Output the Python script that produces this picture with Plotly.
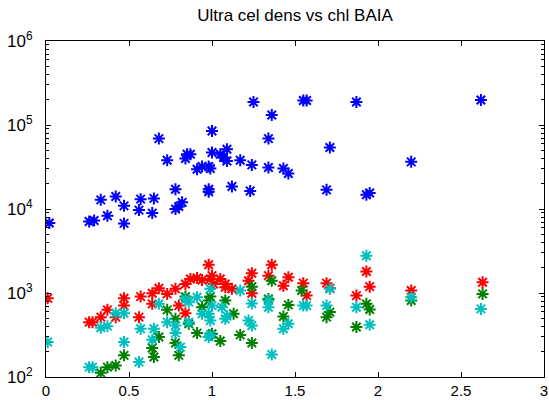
import plotly.graph_objects as go

title = "Ultra cel dens vs chl BAIA"

blue_x = [0.02, 0.26, 0.29, 0.33, 0.37, 0.42, 0.47, 0.47, 0.56, 0.57,
          0.64, 0.65, 0.68, 0.73, 0.78, 0.78, 0.80, 0.82, 0.84, 0.85,
          0.87, 0.91, 0.94, 0.98, 0.99, 0.98, 0.98, 1.00, 1.00, 1.05,
          1.07, 1.09, 1.09, 1.12, 1.17, 1.23, 1.24, 1.25, 1.34, 1.34,
          1.36, 1.43, 1.46, 1.55, 1.57, 1.87, 1.71, 1.69, 1.93, 1.95,
          2.20, 2.62]
blue_y = [6800, 7100, 7300, 12850, 8300, 14100, 10900, 6740, 9700, 13100,
          8940, 13370, 68900, 38100, 17200, 9970, 10700, 12000, 39900, 44900,
          44900, 29800, 32100, 32100, 30300, 17200, 16000, 84900, 47000, 44900,
          41000, 51400, 37300, 18500, 38100, 16400, 33500, 187600, 31200, 68900,
          131500, 30300, 26500, 196000, 196000, 187600, 53900, 16900, 14800, 15500,
          36400, 198000]

red_x = [0.01, 0.26, 0.28, 0.33, 0.37, 0.42, 0.47, 0.47, 0.56, 0.57,
         0.64, 0.64, 0.68, 0.73, 0.78, 0.80, 0.84, 0.84, 0.87, 0.91,
         0.94, 0.98, 0.99, 1.00, 1.01, 1.05, 1.08, 1.08, 1.12, 1.22,
         1.24, 1.24, 1.34, 1.36, 1.43, 1.46, 1.55, 1.57, 1.69, 1.71,
         1.87, 1.93, 1.95, 2.20, 2.63]
red_y = [867, 450, 450, 516, 630, 516, 867, 708, 516, 906,
         995, 743, 1140, 976, 1120, 708, 575, 1280, 1470, 1510,
         1430, 2170, 1470, 1610, 1280, 1470, 1280, 1170, 1120, 1400,
         1720, 995, 1610, 2170, 1220, 1540, 1310, 931, 1310, 1140,
         931, 1800, 1190, 1070, 1340]

green_x = [0.33, 0.37, 0.42, 0.47, 0.65, 0.64, 0.68, 0.73, 0.78, 0.78,
           0.80, 0.84, 0.86, 0.91, 0.94, 0.98, 0.99, 1.00, 1.05, 1.08,
           1.13, 1.17, 1.24, 1.24, 1.36, 1.34, 1.43, 1.46, 1.54, 1.69,
           1.71, 1.87, 1.93, 1.95, 2.20, 2.63]
green_y = [112, 131, 137, 181, 173, 221, 299, 630, 492, 254,
           181, 906, 430, 333, 678, 813, 906, 327, 268, 813,
           565, 317, 254, 1190, 1400, 851, 525, 722, 1070, 516,
           592, 393, 743, 635, 813, 976]

cyan_x = [0.01, 0.26, 0.28, 0.33, 0.37, 0.42, 0.47, 0.47, 0.56, 0.57,
          0.65, 0.64, 0.68, 0.73, 0.78, 0.78, 0.81, 0.84, 0.86, 0.86,
          0.91, 0.94, 0.98, 0.99, 1.00, 0.99, 0.98, 0.99, 1.06, 1.08,
          1.09, 1.17, 1.24, 1.22, 1.24, 1.34, 1.34, 1.36, 1.43, 1.46,
          1.55, 1.57, 1.69, 1.71, 1.87, 1.93, 1.95, 2.20, 2.62]
cyan_y = [261, 131, 131, 385, 403, 575, 575, 261, 151, 375,
          375, 277, 743, 450, 410, 333, 227, 851, 778, 450,
          891, 565, 565, 1120, 708, 470, 299, 317, 678, 492,
          530, 1070, 750, 470, 410, 813, 678, 185, 375, 430,
          708, 708, 708, 1120, 678, 2780, 418, 891, 647]

x_ticks = [0, 0.5, 1, 1.5, 2, 2.5, 3]
x_ticktext = ["0", "0.5", "1", "1.5", "2", "2.5", "3"]
y_ticks = [1e2, 1e3, 1e4, 1e5, 1e6]
y_ticktext = ["10<sup>2</sup>", "10<sup>3</sup>", "10<sup>4</sup>",
              "10<sup>5</sup>", "10<sup>6</sup>"]
decades = [1e2, 1e3, 1e4, 1e5]
minor_mults = [2, 3, 4, 5, 6, 7, 8, 9]
y_minor = [d * m for d in decades for m in minor_mults]

series = [
    (blue_x, blue_y, "#0000FF"),
    (red_x, red_y, "#FF0000"),
    (green_x, green_y, "#008000"),
    (cyan_x, cyan_y, "#00BFBF"),
]

fig = go.Figure()
for xs, ys, col in series:
    fig.add_trace(go.Scatter(
        x=xs, y=ys, mode="markers",
        marker=dict(symbol="asterisk-open", size=10,
                    line=dict(color=col, width=2), color=col),
        showlegend=False, hoverinfo="skip"))

axis_common = dict(showline=True, linecolor="black", linewidth=1,
                   mirror="allticks", ticks="inside", ticklen=5,
                   tickcolor="black", showgrid=False, zeroline=False,
                   ticklabeloverflow="allow")

fig.update_xaxes(range=[0, 3], tickmode="array", tickvals=x_ticks,
                 ticktext=x_ticktext,
                 tickfont=dict(family="Liberation Sans, Arial", size=15, color="black"),
                 **axis_common)
fig.update_yaxes(type="log", range=[2, 6], tickmode="array", tickvals=y_ticks,
                 ticktext=y_ticktext, ticklabelstandoff=9,
                 tickfont=dict(family="Liberation Sans, Arial", size=17, color="black"),
                 minor=dict(tickmode="array", tickvals=y_minor, ticks="inside",
                            ticklen=3, tickcolor="black", showgrid=False),
                 **axis_common)

fig.update_layout(
    width=549, height=400,
    margin=dict(l=46, r=1, t=41, b=22),
    paper_bgcolor="white", plot_bgcolor="white",
    title=dict(text=title, x=0.5, xref="paper", xanchor="center",
               y=1 - 15 / 400, yref="container", yanchor="middle",
               font=dict(family="Liberation Sans, Arial", size=17, color="black")),
)

fig.write_html("out.html")
